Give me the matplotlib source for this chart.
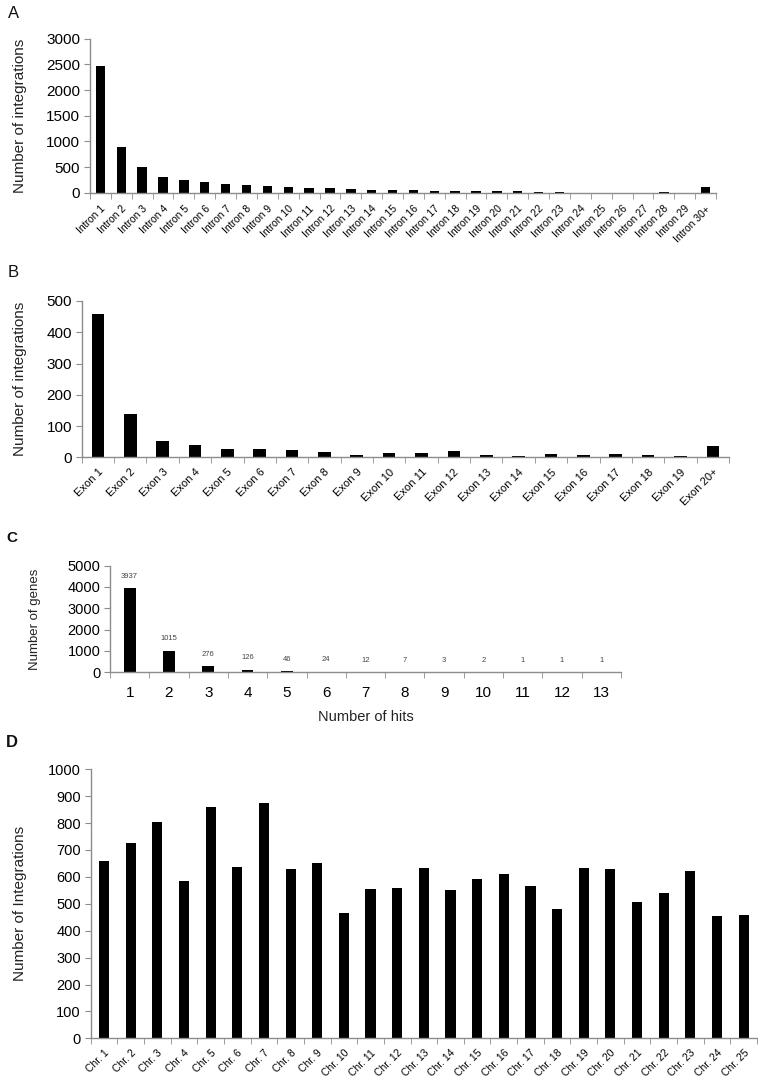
import matplotlib
matplotlib.use("Agg")
import matplotlib.pyplot as plt
import numpy as np

plt.rcParams['font.family'] = ['Liberation Sans', 'DejaVu Sans']

# ---- data ----
intron_labels = [f"Intron {i}" for i in range(1, 30)] + ["Intron 30+"]
intron_values = [2465, 895, 495, 315, 248, 208, 175, 156, 136, 111, 88, 86, 72, 55,
                 48, 45, 40, 35, 30, 28, 24, 16, 20, 3, 2, 2, 2, 8, 2, 105]

exon_labels = [f"Exon {i}" for i in range(1, 20)] + ["Exon 20+"]
exon_values = [458, 139, 53, 39, 26, 25, 23, 16, 7, 14, 13, 20, 7, 5, 10, 8, 11, 7, 5, 37]

hits_labels = [str(i) for i in range(1, 14)]
hits_values = [3937, 1015, 276, 126, 46, 24, 12, 7, 3, 2, 1, 1, 1]

chr_labels = [f"Chr. {i}" for i in range(1, 26)]
chr_values = [659, 727, 805, 584, 861, 638, 874, 628, 651, 466, 554, 558, 633, 550,
              594, 610, 566, 482, 633, 630, 506, 542, 622, 454, 457]

W, H = 758, 1080
fig = plt.figure(figsize=(W / 100, H / 100), dpi=100)

def px_axes(l, r, b, t):
    return fig.add_axes([l / W, 1 - b / H, (r - l) / W, (b - t) / H])

SPINE = "#8c8c8c"

def style(ax, n, ymax, yticks, ylab, labfs, ytickfs, xtickfs, lab_x, xpad):
    ax.set_xlim(0, n)
    ax.set_ylim(0, ymax)
    for s in ("top", "right"):
        ax.spines[s].set_visible(False)
    for s in ("left", "bottom"):
        ax.spines[s].set_color(SPINE)
        ax.spines[s].set_linewidth(1.0)
    ax.set_yticks(yticks)
    ax.tick_params(axis="y", direction="out", length=4, color=SPINE, labelsize=ytickfs, pad=3)
    ax.set_xticks(np.arange(n + 1), minor=True)
    ax.tick_params(axis="x", which="minor", direction="out", length=4, color=SPINE)
    ax.tick_params(axis="x", which="major", length=0, labelsize=xtickfs, pad=xpad)
    ax.set_ylabel(ylab, fontsize=labfs, color="#222222")
    ax.yaxis.set_label_coords(lab_x, 0.5)

# ---- Panel A ----
axA = px_axes(90, 716, 192.7, 38.7)
xA = np.arange(len(intron_values)) + 0.5
axA.bar(xA, intron_values, width=0.45, color="black")
style(axA, len(intron_values), 3000, range(0, 3001, 500), "Number of integrations",
      11, 11, 7.5, -0.10, 8)
axA.set_xticks(xA)
axA.set_xticklabels(intron_labels, rotation=45, ha="right", rotation_mode="anchor")

# ---- Panel B ----
axB = px_axes(81.7, 729, 457.3, 301)
xB = np.arange(len(exon_values)) + 0.5
axB.bar(xB, exon_values, width=0.39, color="black")
style(axB, len(exon_values), 500, range(0, 501, 100), "Number of integrations",
      11, 11, 8, -0.085, 7)
axB.set_xticks(xB)
axB.set_xticklabels(exon_labels, rotation=45, ha="right", rotation_mode="anchor")

# ---- Panel C ----
axC = px_axes(110, 621, 672.3, 565.6)
xC = np.arange(len(hits_values)) + 0.5
axC.bar(xC, hits_values, width=0.3, color="black")
style(axC, len(hits_values), 5000, range(0, 5001, 1000), "Number of genes",
      9.5, 10.5, 11, -0.135, 10)
axC.set_xticks(xC)
axC.set_xticklabels(hits_labels)
axC.set_xlabel("Number of hits", fontsize=10.5, color="#222222", labelpad=7)
for x, v in zip(xC, hits_values):
    axC.annotate(str(v), (x, v), xytext=(0, 6), textcoords="offset points",
                 ha="center", va="bottom", fontsize=5.5, color="#444444")

# ---- Panel D ----
axD = px_axes(90.7, 757, 1038.3, 769.3)
xD = np.arange(len(chr_values)) + 0.5
axD.bar(xD, chr_values, width=0.38, color="black")
style(axD, len(chr_values), 1000, range(0, 1001, 100), "Number of Integrations",
      11, 10.5, 7.5, -0.096, 7)
axD.set_xticks(xD)
axD.set_xticklabels(chr_labels, rotation=45, ha="right", rotation_mode="anchor")

# ---- panel letters ----
fig.text(8 / W, 1 - 18 / H, "A", fontsize=12, color="#111111")
fig.text(8 / W, 1 - 277 / H, "B", fontsize=12, color="#111111")
fig.text(6 / W, 1 - 542 / H, "C", fontsize=11, fontweight="bold", color="#111111")
fig.text(6 / W, 1 - 747 / H, "D", fontsize=12, fontweight="bold", color="#111111")

fig.savefig("out.png", dpi=100, facecolor="white")
